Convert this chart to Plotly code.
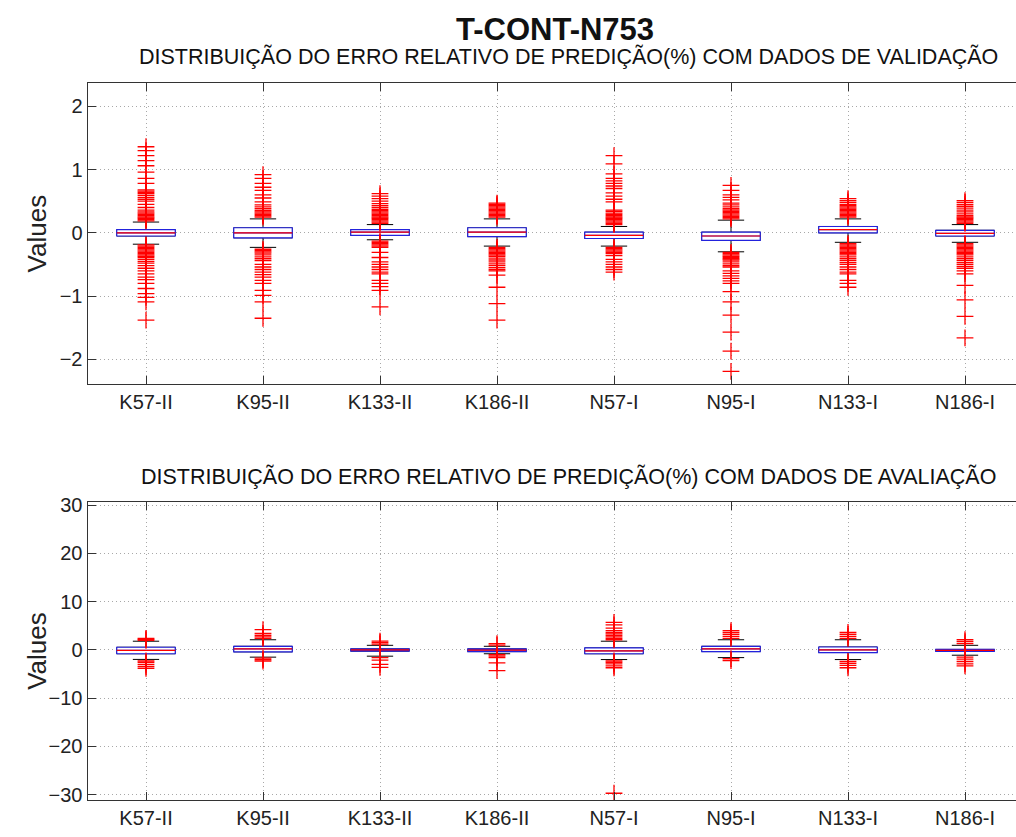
import plotly.graph_objects as go
from plotly.subplots import make_subplots

categories = ["K57-II", "K95-II", "K133-II", "K186-II", "N57-I", "N95-I", "N133-I", "N186-I"]

# Validation data: box statistics (relative error, %)
val_q1 = [-0.05, -0.08, -0.04, -0.06, -0.09, -0.12, 0.00, -0.05]
val_med = [0.00, 0.00, 0.01, 0.01, -0.04, -0.05, 0.05, -0.01]
val_q3 = [0.05, 0.08, 0.05, 0.08, 0.01, 0.01, 0.10, 0.04]
val_lo = [-0.18, -0.23, -0.11, -0.21, -0.21, -0.30, -0.15, -0.15]
val_hi = [0.17, 0.22, 0.13, 0.22, 0.10, 0.20, 0.22, 0.13]

# Validation data: outliers per category
val_outliers = [
    [0.19, 0.21, 0.23, 0.25, 0.27, 0.29, 0.31, 0.33, 0.36, 0.40, 0.45, 0.50, 0.53, 0.56, 0.59,
     0.62, 0.64, 0.66, 0.68, 0.78, 0.86, 0.96, 1.06, 1.14, 1.22, 1.30, 1.36,
     -0.19, -0.21, -0.23, -0.25, -0.27, -0.29, -0.31, -0.33, -0.35, -0.37, -0.39, -0.42, -0.45,
     -0.48, -0.52, -0.56, -0.60, -0.65, -0.70, -0.74, -0.80, -0.88, -0.96, -1.02, -1.09, -1.38],
    [0.25, 0.27, 0.29, 0.31, 0.33, 0.35, 0.38, 0.41, 0.44, 0.49, 0.55, 0.60, 0.67, 0.72, 0.78,
     0.86, 0.92,
     -0.26, -0.28, -0.30, -0.32, -0.35, -0.38, -0.41, -0.44, -0.50, -0.54, -0.58, -0.62, -0.66,
     -0.70, -0.75, -0.80, -0.91, -0.99, -1.09, -1.35],
    [0.15, 0.17, 0.19, 0.21, 0.23, 0.25, 0.27, 0.29, 0.31, 0.33, 0.35, 0.37, 0.40, 0.43, 0.46,
     0.50, 0.54, 0.58, 0.62,
     -0.13, -0.15, -0.17, -0.19, -0.21, -0.23, -0.31, -0.39, -0.46, -0.50, -0.54, -0.58, -0.62,
     -0.65, -0.75, -0.80, -0.85, -0.91, -1.17],
    [0.25, 0.27, 0.29, 0.31, 0.33, 0.35, 0.37, 0.39, 0.41, 0.43, 0.45, 0.47,
     -0.23, -0.25, -0.27, -0.29, -0.31, -0.33, -0.35, -0.37, -0.40, -0.43, -0.46, -0.49, -0.52,
     -0.55, -0.58, -0.60, -0.67, -0.86, -1.12, -1.38],
    [0.13, 0.15, 0.17, 0.19, 0.21, 0.23, 0.25, 0.27, 0.29, 0.31, 0.34, 0.36, 0.49, 0.53, 0.58,
     0.63, 0.70, 0.74, 0.78, 0.82, 0.86, 0.93, 1.09, 1.22,
     -0.23, -0.25, -0.27, -0.29, -0.31, -0.33, -0.36, -0.42, -0.46, -0.50, -0.54, -0.58, -0.62],
    [0.22, 0.24, 0.26, 0.28, 0.30, 0.32, 0.34, 0.36, 0.38, 0.41, 0.44, 0.47, 0.52, 0.56, 0.60,
     0.67, 0.75,
     -0.31, -0.33, -0.35, -0.37, -0.39, -0.41, -0.43, -0.46, -0.49, -0.52, -0.54, -0.60, -0.64,
     -0.68, -0.72, -0.76, -0.80, -0.93, -1.09, -1.30, -1.57, -1.87, -2.19],
    [0.25, 0.27, 0.29, 0.31, 0.33, 0.35, 0.37, 0.39, 0.41, 0.43, 0.45, 0.48, 0.51, 0.54,
     -0.17, -0.19, -0.21, -0.23, -0.25, -0.27, -0.29, -0.31, -0.33, -0.35, -0.38, -0.41, -0.44,
     -0.47, -0.50, -0.54, -0.58, -0.62, -0.65, -0.75, -0.80, -0.86],
    [0.15, 0.17, 0.19, 0.21, 0.23, 0.25, 0.27, 0.30, 0.33, 0.36, 0.39, 0.42, 0.45, 0.48, 0.51,
     -0.17, -0.19, -0.21, -0.23, -0.25, -0.27, -0.29, -0.31, -0.33, -0.35, -0.38, -0.41, -0.44,
     -0.47, -0.50, -0.53, -0.56, -0.60, -0.65, -0.83, -1.06, -1.32, -1.66],
]

# Evaluation data: box statistics
ev_q1 = [-0.80, -0.40, -0.25, -0.35, -0.80, -0.35, -0.55, -0.30]
ev_med = [-0.10, 0.20, 0.00, -0.05, -0.20, 0.20, 0.00, -0.10]
ev_q3 = [0.55, 0.75, 0.20, 0.20, 0.40, 0.75, 0.60, 0.10]
ev_lo = [-1.97, -1.50, -1.30, -0.80, -2.00, -1.60, -2.00, -1.10]
ev_hi = [1.80, 2.10, 0.95, 0.75, 1.80, 2.10, 2.10, 0.95]

# Evaluation data: outliers per category
ev_outliers = [
    [2.0, 2.2, 2.4, -2.3, -2.6, -3.0, -3.4, -3.8],
    [2.4, 2.7, 3.0, 3.4, 4.2, -1.7, -2.0, -2.3],
    [1.2, 1.5, 1.8, -1.6, -2.1, -3.0, -3.6],
    [1.0, 1.3, -1.0, -1.3, -1.6, -2.7, -4.3],
    [2.1, 2.4, 2.7, 3.0, 3.3, 3.6, 4.0, 4.5, 5.2, 5.7, -2.3, -2.6, -2.9, -3.3, -3.7, -29.7],
    [2.4, 2.8, 3.2, 3.6, 4.0, -1.8, -2.2],
    [2.4, 2.8, 3.2, 3.6, -2.4, -2.8, -3.2, -3.7],
    [1.3, 1.7, 2.1, -1.5, -1.9, -2.4, -2.9, -3.3],
]

title_main = "T-CONT-N753"
title_val = "DISTRIBUIÇÃO DO ERRO RELATIVO DE PREDIÇÃO(%) COM DADOS DE VALIDAÇÃO"
title_ev = "DISTRIBUIÇÃO DO ERRO RELATIVO DE PREDIÇÃO(%) COM DADOS DE AVALIAÇÃO"

W, H = 1016, 837
FONT = "Liberation Sans, Arial, sans-serif"
BOX_W = 0.5
pos = list(range(1, len(categories) + 1))

fig = make_subplots(rows=2, cols=1)


def add_panel(row, q1, med, q3, lo, hi, outliers):
    # whiskers + caps (black)
    fig.add_trace(go.Box(
        x=pos, q1=q1, median=med, q3=q3, lowerfence=lo, upperfence=hi,
        width=BOX_W, whiskerwidth=0.45, boxpoints=False,
        line=dict(color="black", width=1), fillcolor="white",
        hoverinfo="skip", showlegend=False), row=row, col=1)
    # box body (blue outline)
    fig.add_trace(go.Box(
        x=pos, q1=q1, median=med, q3=q3, lowerfence=q1, upperfence=q3,
        width=BOX_W, whiskerwidth=0, boxpoints=False,
        line=dict(color="#2222dd", width=1.2), fillcolor="white",
        showlegend=False), row=row, col=1)
    # median (red)
    mx, my = [], []
    for p, m in zip(pos, med):
        mx += [p - BOX_W / 2, p + BOX_W / 2, None]
        my += [m, m, None]
    fig.add_trace(go.Scatter(x=mx, y=my, mode="lines",
                             line=dict(color="red", width=1.2),
                             hoverinfo="skip", showlegend=False), row=row, col=1)
    # outliers (red +)
    ox, oy = [], []
    for p, vals in zip(pos, outliers):
        ox += [p] * len(vals)
        oy += vals
    fig.add_trace(go.Scatter(
        x=ox, y=oy, mode="markers",
        marker=dict(symbol="cross-thin", size=12, color="red",
                    line=dict(color="red", width=1.3)),
        showlegend=False), row=row, col=1)


add_panel(1, val_q1, val_med, val_q3, val_lo, val_hi, val_outliers)
add_panel(2, ev_q1, ev_med, ev_q3, ev_lo, ev_hi, ev_outliers)

x_left = 87.5 / W
x_right = 1.0
x_max = (W - 87.5) / 117.0 + 0.5

axis_common = dict(
    showline=True, linecolor="#333", linewidth=1,
    ticks="inside", ticklen=8, tickcolor="#333",
    showgrid=True, gridcolor="#a8a8a8", griddash="1px,3px", gridwidth=1,
    zeroline=False,
    tickfont=dict(family=FONT, size=20, color="#222"),
)

for r, dom in [(1, [1 - 382 / H, 1 - 76 / H]), (2, [1 - 805 / H, 1 - 502 / H])]:
    fig.update_xaxes(
        row=r, col=1, domain=[x_left, x_right], range=[0.5, x_max],
        tickvals=pos, ticktext=categories, mirror="ticks", **axis_common)
    fig.update_yaxes(row=r, col=1, domain=dom, mirror=False, **axis_common)

fig.update_yaxes(row=1, col=1, range=[-2.39, 2.37], tickvals=[-2, -1, 0, 1, 2])
fig.update_yaxes(row=2, col=1, range=[-31.2, 30.6], tickvals=[-30, -20, -10, 0, 10, 20, 30])

annots = [
    dict(text="<b>" + title_main + "</b>", x=555 / W, y=1 - 22 / H,
         font=dict(family=FONT, size=31, color="#111")),
    dict(text=title_val, x=568 / W, y=1 - 49 / H,
         font=dict(family=FONT, size=21.5, color="#111")),
    dict(text=title_ev, x=568 / W, y=1 - 476 / H,
         font=dict(family=FONT, size=21.5, color="#111")),
    dict(text="Values", x=37 / W, y=1 - 229 / H, textangle=-90,
         font=dict(family=FONT, size=26, color="#222")),
    dict(text="Values", x=37 / W, y=1 - 653 / H, textangle=-90,
         font=dict(family=FONT, size=26, color="#222")),
]
for a in annots:
    fig.add_annotation(xref="paper", yref="paper", xanchor="center", yanchor="middle",
                       showarrow=False, **a)

fig.update_layout(
    width=W, height=H, margin=dict(l=0, r=0, t=0, b=0),
    paper_bgcolor="white", plot_bgcolor="white",
    boxmode="overlay", showlegend=False,
)

fig.write_html("out.html")
